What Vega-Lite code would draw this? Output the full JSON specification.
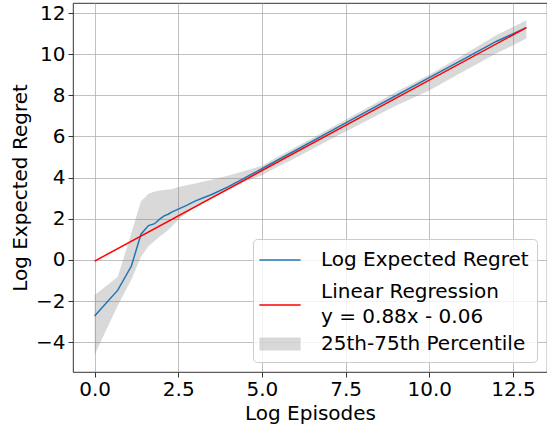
{
  "$schema": "https://vega.github.io/schema/vega-lite/v6.json",
  "width": 474,
  "height": 369,
  "autosize": {"type": "none"},
  "padding": {"left": 73, "top": 3, "right": 0, "bottom": 53},
  "config": {
    "font": "DejaVu Sans",
    "view": {"stroke": "#000000", "strokeWidth": 0.8},
    "axis": {
      "labelFont": "DejaVu Sans",
      "titleFont": "DejaVu Sans",
      "labelFontSize": 20,
      "titleFontSize": 20,
      "titleFontWeight": "normal",
      "labelColor": "#000000",
      "titleColor": "#000000",
      "domain": false,
      "tickColor": "#000000",
      "tickSize": 5,
      "tickWidth": 0.8,
      "gridColor": "#b0b0b0",
      "gridWidth": 0.8,
      "gridOpacity": 1
    },
    "legend": {
      "title": null,
      "orient": "bottom-right",
      "offset": 10,
      "labelFont": "DejaVu Sans",
      "labelFontSize": 20,
      "labelColor": "#000000",
      "labelLimit": 500,
      "labelOffset": 28,
      "symbolSize": 576,
      "symbolOffset": 6,
      "symbolType": "M-1.72,0L1.72,0",
      "rowPadding": 4,
      "padding": 8,
      "cornerRadius": 4,
      "strokeColor": "#cccccc",
      "fillColor": "rgba(255,255,255,0.8)"
    }
  },
  "datasets": {
    "main": [
      {"x": 0.0, "y": -2.73, "lo": -4.61, "hi": -1.72},
      {"x": 0.693, "y": -1.47, "lo": -2.22, "hi": -0.82},
      {"x": 1.099, "y": -0.30, "lo": -0.95, "hi": 1.31},
      {"x": 1.386, "y": 1.25, "lo": 0.15, "hi": 2.85},
      {"x": 1.609, "y": 1.67, "lo": 0.68, "hi": 3.22},
      {"x": 1.792, "y": 1.76, "lo": 0.92, "hi": 3.32},
      {"x": 1.946, "y": 1.98, "lo": 1.14, "hi": 3.37},
      {"x": 2.079, "y": 2.14, "lo": 1.30, "hi": 3.40},
      {"x": 2.197, "y": 2.22, "lo": 1.45, "hi": 3.42},
      {"x": 2.303, "y": 2.32, "lo": 1.62, "hi": 3.44},
      {"x": 2.5, "y": 2.47, "lo": 1.95, "hi": 3.55},
      {"x": 2.75, "y": 2.65, "lo": 2.28, "hi": 3.63},
      {"x": 3.0, "y": 2.86, "lo": 2.56, "hi": 3.72},
      {"x": 3.25, "y": 3.02, "lo": 2.78, "hi": 3.81},
      {"x": 3.5, "y": 3.18, "lo": 3.0, "hi": 3.90},
      {"x": 4.0, "y": 3.56, "lo": 3.40, "hi": 4.10},
      {"x": 4.5, "y": 4.00, "lo": 3.80, "hi": 4.33},
      {"x": 5.0, "y": 4.43, "lo": 4.12, "hi": 4.58},
      {"x": 5.5, "y": 4.88, "lo": 4.55, "hi": 5.04},
      {"x": 6.0, "y": 5.32, "lo": 4.96, "hi": 5.48},
      {"x": 7.0, "y": 6.21, "lo": 5.82, "hi": 6.37},
      {"x": 8.0, "y": 7.10, "lo": 6.66, "hi": 7.26},
      {"x": 9.0, "y": 7.98, "lo": 7.50, "hi": 8.16},
      {"x": 10.0, "y": 8.86, "lo": 8.24, "hi": 9.00},
      {"x": 11.0, "y": 9.74, "lo": 9.15, "hi": 9.95},
      {"x": 12.0, "y": 10.62, "lo": 10.03, "hi": 10.92},
      {"x": 12.9, "y": 11.29, "lo": 10.76, "hi": 11.65}
    ],
    "fit": [
      {"x": 0.0, "y": -0.06},
      {"x": 12.9, "y": 11.292}
    ]
  },
  "layer": [
    {
      "data": {"name": "main"},
      "mark": {"type": "area", "opacity": 0.3},
      "encoding": {
        "x": {
          "field": "x", "type": "quantitative",
          "scale": {"domain": [-0.645, 13.517], "nice": false, "zero": false},
          "axis": {"title": "Log Episodes", "values": [0, 2.5, 5, 7.5, 10, 12.5], "format": ".1f", "labelPadding": 2, "titlePadding": 4}
        },
        "y": {
          "field": "lo", "type": "quantitative",
          "scale": {"domain": [-5.45, 12.49], "nice": false, "zero": false},
          "axis": {"title": "Log Expected Regret", "values": [-4, -2, 0, 2, 4, 6, 8, 10, 12], "format": "d", "labelPadding": 3, "titlePadding": 5}
        },
        "y2": {"field": "hi"},
        "color": {
          "datum": "25th-75th Percentile",
          "scale": {
            "domain": ["Log Expected Regret", "Linear Regression", "25th-75th Percentile"],
            "range": ["#1f77b4", "#ff0000", "#808080"]
          },
          "legend": {
            "labelExpr": "datum.label == 'Linear Regression' ? ['Linear Regression', 'y = 0.88x - 0.06'] : datum.label",
            "encode": {
              "labels": {"update": {"lineHeight": {"value": 25}, "dy": {"signal": "datum.value == 'Linear Regression' ? -13 : 0"}}},
              "symbols": {
                "update": {
                  "shape": {"signal": "datum.value == '25th-75th Percentile' ? 'M-1.72,-0.55L1.72,-0.55L1.72,0.55L-1.72,0.55Z' : (datum.value == 'Log Expected Regret' ? 'M-1.72,0L1.72,0M0,1.25' : 'M-1.72,0L1.72,0')"},
                  "fillOpacity": {"signal": "datum.value == '25th-75th Percentile' ? 0.3 : 0"},
                  "strokeOpacity": {"signal": "datum.value == '25th-75th Percentile' ? 0 : 1"},
                  "strokeWidth": {"value": 1.5},
                  "opacity": {"value": 1}
                }
              }
            }
          }
        }
      }
    },
    {
      "data": {"name": "main"},
      "mark": {"type": "line", "strokeWidth": 1.5},
      "encoding": {
        "x": {"field": "x", "type": "quantitative"},
        "y": {"field": "y", "type": "quantitative"},
        "color": {
          "datum": "Log Expected Regret",
          "legend": {
            "labelExpr": "datum.label == 'Linear Regression' ? ['Linear Regression', 'y = 0.88x - 0.06'] : datum.label",
            "encode": {
              "labels": {"update": {"lineHeight": {"value": 25}, "dy": {"signal": "datum.value == 'Linear Regression' ? -13 : 0"}}},
              "symbols": {
                "update": {
                  "shape": {"signal": "datum.value == '25th-75th Percentile' ? 'M-1.72,-0.55L1.72,-0.55L1.72,0.55L-1.72,0.55Z' : (datum.value == 'Log Expected Regret' ? 'M-1.72,0L1.72,0M0,1.25' : 'M-1.72,0L1.72,0')"},
                  "fillOpacity": {"signal": "datum.value == '25th-75th Percentile' ? 0.3 : 0"},
                  "strokeOpacity": {"signal": "datum.value == '25th-75th Percentile' ? 0 : 1"},
                  "strokeWidth": {"value": 1.5},
                  "opacity": {"value": 1}
                }
              }
            }
          }
        }
      }
    },
    {
      "data": {"name": "fit"},
      "mark": {"type": "line", "strokeWidth": 1.5},
      "encoding": {
        "x": {"field": "x", "type": "quantitative"},
        "y": {"field": "y", "type": "quantitative"},
        "color": {
          "datum": "Linear Regression",
          "legend": {
            "labelExpr": "datum.label == 'Linear Regression' ? ['Linear Regression', 'y = 0.88x - 0.06'] : datum.label",
            "encode": {
              "labels": {"update": {"lineHeight": {"value": 25}, "dy": {"signal": "datum.value == 'Linear Regression' ? -13 : 0"}}},
              "symbols": {
                "update": {
                  "shape": {"signal": "datum.value == '25th-75th Percentile' ? 'M-1.72,-0.55L1.72,-0.55L1.72,0.55L-1.72,0.55Z' : (datum.value == 'Log Expected Regret' ? 'M-1.72,0L1.72,0M0,1.25' : 'M-1.72,0L1.72,0')"},
                  "fillOpacity": {"signal": "datum.value == '25th-75th Percentile' ? 0.3 : 0"},
                  "strokeOpacity": {"signal": "datum.value == '25th-75th Percentile' ? 0 : 1"},
                  "strokeWidth": {"value": 1.5},
                  "opacity": {"value": 1}
                }
              }
            }
          }
        }
      }
    }
  ]
}
